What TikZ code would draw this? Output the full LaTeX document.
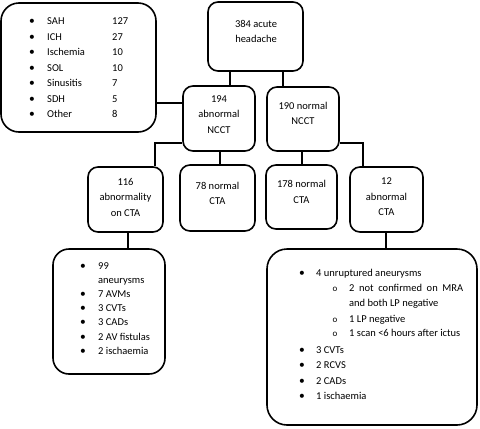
\documentclass[tikz,border=0pt]{standalone}
\usepackage{fontspec}
\setmainfont{Carlito}
\newcommand{\fs}{\fontsize{10.5}{15.5}\selectfont}
\begin{document}
\begin{tikzpicture}[x=1pt,y=-1pt,
 box/.style={draw, line width=1.6pt, rounded corners=10pt, inner sep=0pt},
 lbl/.style={align=center, font=\fs, inner sep=0pt},
 li/.style={anchor=base west, inner sep=0pt, font=\fs},
 bul/.style={anchor=base, inner sep=0pt, font=\fontsize{11.5}{15.5}\selectfont},
 sbul/.style={anchor=base, inner sep=0pt, font=\fontsize{9}{10}\selectfont},
 conn/.style={line width=1.2pt}]
\useasboundingbox (0,0) rectangle (480,429);
% boxes
\node[box, rounded corners=18pt, minimum width=155pt, minimum height=129pt] (A) at (78.5,67.5) {};
\node[box, minimum width=95pt, minimum height=69pt] (top) at (255.5,36.5) {};
\node[box, minimum width=72pt, minimum height=65pt] (n194) at (219,118.5) {};
\node[box, minimum width=72pt, minimum height=64pt] (n190) at (303,119) {};
\node[box, minimum width=75pt, minimum height=65pt] (n116) at (125.5,199.5) {};
\node[box, minimum width=75pt, minimum height=66pt] (n78) at (217.5,198) {};
\node[box, minimum width=71pt, minimum height=64pt] (n178) at (301.5,197) {};
\node[box, minimum width=73pt, minimum height=65pt] (n12) at (386.5,199.5) {};
\node[box, rounded corners=16pt, minimum width=112pt, minimum height=125pt] (L) at (109,311.5) {};
\node[box, rounded corners=20pt, minimum width=210pt, minimum height=176pt] (R) at (372,337) {};
% helper coordinates
\coordinate (yA) at (0,103);
\coordinate (y143) at (0,143);
\coordinate (x230) at (230,0);
\coordinate (x283) at (283,0);
\coordinate (x155) at (155,0);
\coordinate (x220) at (220,0);
\coordinate (x302) at (302,0);
\coordinate (x363) at (363,0);
\coordinate (x128) at (128,0);
\coordinate (x386) at (386,0);
% connectors
\draw[conn] (A.east |- yA) -- (n194.west |- yA);
\draw[conn] (top.south -| x230) -- (n194.north -| x230);
\draw[conn] (top.south -| x283) -- (n190.north -| x283);
\draw[conn] (n194.west |- y143) -| (n116.north -| x155);
\draw[conn] (n194.south -| x220) -- (n78.north -| x220);
\draw[conn] (n190.south -| x302) -- (n178.north -| x302);
\draw[conn] (n190.east |- y143) -| (n12.north -| x363);
\draw[conn] (n116.south -| x128) -- (L.north -| x128);
\draw[conn] (n12.south -| x386) -- (R.north -| x386);
% box labels
\node[lbl] (ttop) at (256,31.5) {384 acute\\headache};
\node[lbl] (t194) at (219,114.5) {194\\abnormal\\NCCT};
\node[lbl] (t190) at (303,113.5) {190 normal\\NCCT};
\node[lbl] (t116) at (125.5,197) {116\\abnormality\\on CTA};
\node[lbl] (t78) at (217.5,193.5) {78 normal\\CTA};
\node[lbl] (t178) at (301.5,192) {178 normal\\CTA};
\node[lbl] (t12) at (386.5,197) {12\\abnormal\\CTA};
% list A
\foreach \t/\n/\y [count=\i] in {SAH/127/24.5, ICH/27/40, Ischemia/10/55.5, SOL/10/71, Sinusitis/7/86.5, SDH/5/102, Other/8/117.5}{
  \node[bul] (ab\i) at (32,\y) {•};
  \node[li] (at\i) at (47,\y) {\t};
  \node[li] (an\i) at (112,\y) {\n};
}
% list L
\foreach \y [count=\i] in {269.5,297.5,311.5,325.5,340.5,354.5}{
  \node[bul] (lb\i) at (83,\y) {•};
}
\node[li] (l1) at (98,269.5) {99};
\node[li] (l1b) at (98,283) {aneurysms};
\node[li] (l2) at (98,297.5) {7 AVMs};
\node[li] (l3) at (98,311.5) {3 CVTs};
\node[li] (l4) at (98,325.5) {3 CADs};
\node[li] (l5) at (98,340.5) {2 AV fistulas};
\node[li] (l6) at (98,354.5) {2 ischaemia};
% list R
\foreach \y [count=\i] in {276.5,353.5,368.5,384.5,399.5}{
  \node[bul] (rb\i) at (302,\y) {•};
}
\foreach \y [count=\i] in {291.5,322.5,336.5}{
  \node[sbul] (rs\i) at (335,\y) {o};
}
\node[li] (r1) at (316,276.5) {4 unruptured aneurysms};
\node[li] (r1a) at (349,291.5) {\makebox[114pt][s]{2 not confirmed on MRA}};
\node[li] (r1b) at (349,306.5) {and both LP negative};
\node[li] (r1c) at (349,322.5) {1 LP negative};
\node[li] (r1d) at (349,336.5) {1 scan <6 hours after ictus};
\node[li] (r2) at (316,353.5) {3 CVTs};
\node[li] (r3) at (316,368.5) {2 RCVS};
\node[li] (r4) at (316,384.5) {2 CADs};
\node[li] (r5) at (316,399.5) {1 ischaemia};
\end{tikzpicture}
\end{document}
